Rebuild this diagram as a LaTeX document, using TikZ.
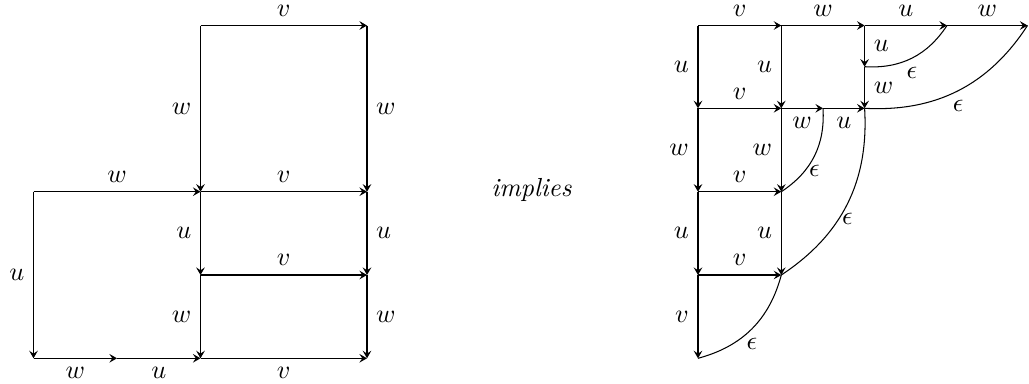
\documentclass[tikz,border=0pt]{standalone}
\usetikzlibrary{arrows.meta}
\begin{document}
\begin{tikzpicture}[x=0.383pt,y=0.383pt,
  arr/.style={draw,line width=0.4pt,-{Stealth[length=2.9pt,width=3.3pt,inset=1.1pt]}},
  eps/.style={draw,line width=0.4pt},
  lab/.style={inner sep=3.33pt},
  toplab/.style={inner sep=1pt,above=2.33pt}]
\useasboundingbox (0,0) rectangle (1029,-383);
% left diagram
\coordinate (A1) at (200.5,-25.5);
\coordinate (A2) at (367,-25.5);
\coordinate (B0) at (33.5,-191.7);
\coordinate (B1) at (200.5,-191.7);
\coordinate (B2) at (367,-191.7);
\coordinate (C1) at (200.5,-275);
\coordinate (C2) at (367,-275);
\coordinate (D0) at (33.5,-358.3);
\coordinate (Dm) at (117,-358.3);
\coordinate (D1) at (200.5,-358.3);
\coordinate (D2) at (367,-358.3);
\path[arr] (A1) -- node[toplab] (la1) {$v$} (A2);
\path[arr] (A1) -- node[lab,left] (la2) {$w$} (B1);
\path[arr] (A2) -- node[lab,right] (la3) {$w$} (B2);
\path[arr] (B0) -- node[lab,above] (la4) {$w$} (B1);
\path[arr] (B1) -- node[lab,above] (la5) {$v$} (B2);
\path[arr] (B1) -- node[lab,left] (la6) {$u$} (C1);
\path[arr] (B2) -- node[lab,right] (la7) {$u$} (C2);
\path[arr] (C1) -- node[lab,above] (la8) {$v$} (C2);
\path[arr] (C1) -- node[lab,left] (la9) {$w$} (D1);
\path[arr] (C2) -- node[lab,right] (la10) {$w$} (D2);
\path[arr] (B0) -- node[lab,left] (la11) {$u$} (D0);
\path[arr] (D0) -- node[lab,below] (la12) {$w$} (Dm);
\path[arr] (Dm) -- node[lab,below] (la13) {$u$} (D1);
\path[arr] (D1) -- node[lab,below] (la14) {$v$} (D2);
% middle text
\node (imp) at (531.5,-190) {\textit{implies}};
% right diagram
\coordinate (R00) at (698,-25.5);
\coordinate (R01) at (781.3,-25.5);
\coordinate (R02) at (864.6,-25.5);
\coordinate (R03) at (947,-25.5);
\coordinate (R04) at (1027.5,-25.5);
\coordinate (Rh) at (864.6,-66.7);
\coordinate (R10) at (698,-108.3);
\coordinate (R11) at (781.3,-108.3);
\coordinate (R1m) at (823,-108.3);
\coordinate (R12) at (864.6,-108.3);
\coordinate (R20) at (698,-191.7);
\coordinate (R21) at (781.3,-191.7);
\coordinate (R30) at (698,-275);
\coordinate (R31) at (781.3,-275);
\coordinate (R40) at (698,-358.3);
\path[arr] (R00) -- node[toplab] (lb1) {$v$} (R01);
\path[arr] (R01) -- node[toplab] (lb2) {$w$} (R02);
\path[arr] (R02) -- node[toplab] (lb3) {$u$} (R03);
\path[arr] (R03) -- node[toplab] (lb4) {$w$} (R04);
\path[arr] (R00) -- node[lab,left] (lb5) {$u$} (R10);
\path[arr] (R01) -- node[lab,left] (lb6) {$u$} (R11);
\path[arr] (R02) -- node[lab,right] (lb7) {$u$} (Rh);
\path[arr] (Rh) -- node[lab,right] (lb8) {$w$} (R12);
\path[arr] (R10) -- node[lab,above] (lb9) {$v$} (R11);
\path[arr] (R11) -- node[lab,below] (lb10) {$w$} (R1m);
\path[arr] (R1m) -- node[lab,below] (lb11) {$u$} (R12);
\path[arr] (R10) -- node[lab,left] (lb12) {$w$} (R20);
\path[arr] (R11) -- node[lab,left] (lb13) {$w$} (R21);
\path[arr] (R20) -- node[lab,above] (lb14) {$v$} (R21);
\path[arr] (R20) -- node[lab,left] (lb15) {$u$} (R30);
\path[arr] (R21) -- node[lab,left] (lb16) {$u$} (R31);
\path[arr] (R30) -- node[lab,above] (lb17) {$v$} (R31);
\path[arr] (R30) -- node[lab,left] (lb18) {$v$} (R40);
\path[eps] (R03) to[bend left=30] node[lab,below] (e1) {$\epsilon$} (Rh);
\path[eps] (R04) to[bend left=30] node[lab,below] (e2) {$\epsilon$} (R12);
\path[eps] (R1m) to[bend left=30] node[lab,below] (e3) {$\epsilon$} (R21);
\path[eps] (R12) to[bend left=30] node[lab,below] (e4) {$\epsilon$} (R31);
\path[eps] (R31) to[bend left=30] node[lab,below] (e5) {$\epsilon$} (R40);
\end{tikzpicture}
\end{document}
